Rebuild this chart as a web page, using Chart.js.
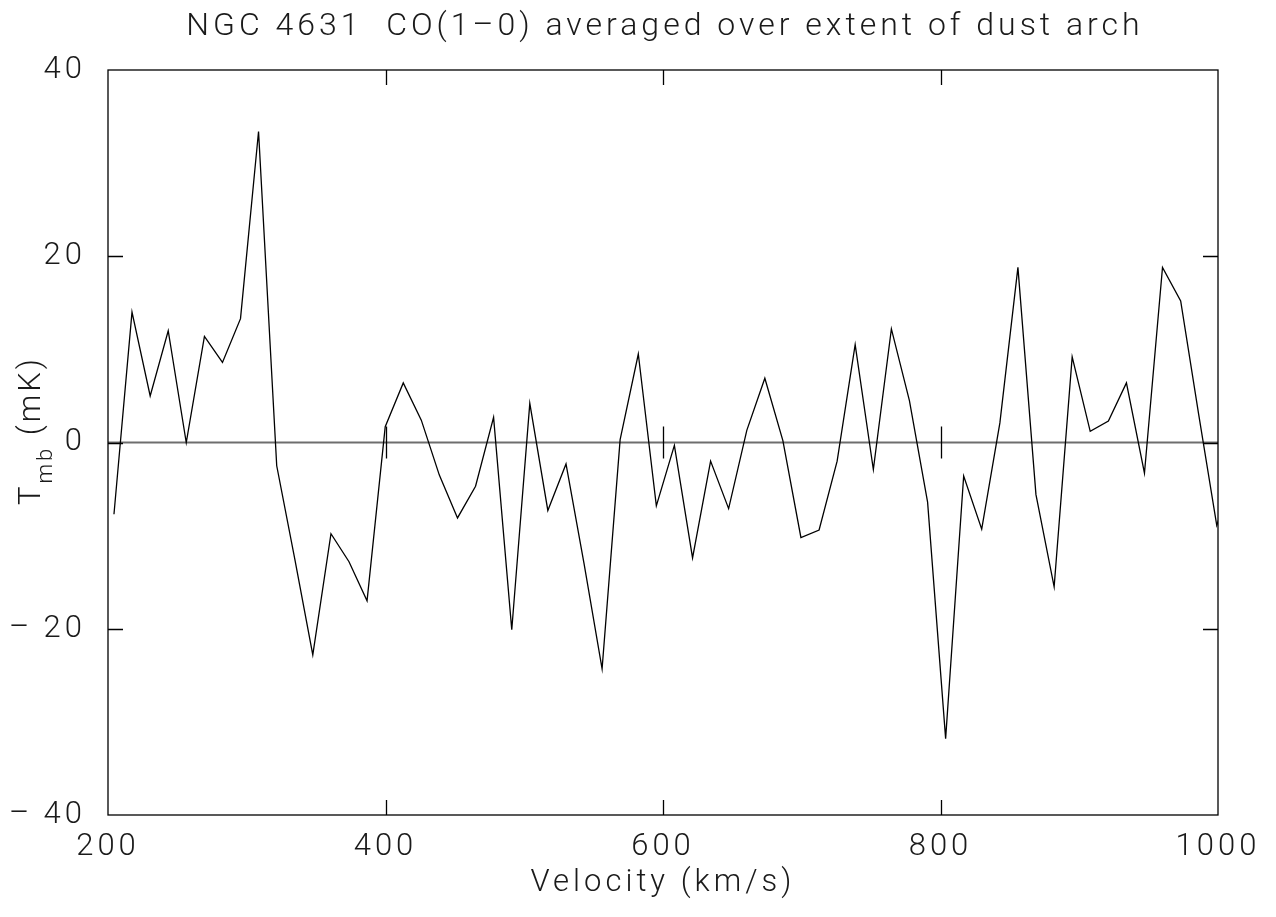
<!DOCTYPE html>
<html>
<head>
<meta charset="utf-8">
<script src="https://cdn.jsdelivr.net/npm/chart.js@4.4.1/dist/chart.umd.min.js"></script>
<style>
  html, body { margin: 0; padding: 0; background: #ffffff; }
  #wrap { width: 1276px; height: 917px; position: relative; }
</style>
</head>
<body>
<div id="wrap"><canvas id="c" width="1276" height="917"></canvas></div>
<script>
// ---- data ----
const titleText = "NGC 4631  CO(1\u20130) averaged over extent of dust arch";
const xTitle = "Velocity (km/s)";
const velocities = [204.3, 217.3, 230.4, 243.4, 256.4, 269.5, 282.5, 295.5, 308.5, 321.6,
  334.6, 347.6, 360.7, 373.7, 386.7, 399.8, 412.8, 425.8, 438.8, 451.9,
  464.9, 477.9, 491.0, 504.0, 517.0, 530.1, 543.1, 556.1, 569.1, 582.2,
  595.2, 608.2, 621.3, 634.3, 647.3, 660.4, 673.4, 686.4, 699.4, 712.5,
  725.5, 738.5, 751.6, 764.6, 777.6, 790.7, 803.7, 816.7, 829.7, 842.8,
  855.8, 868.8, 881.9, 894.9, 907.9, 921.0, 934.0, 947.0, 960.0, 973.1,
  986.1, 999.1, 1012.1];
const tmb = [-7.7, 14.0, 5.0, 12.0, 0.0, 11.4, 8.6, 13.3, 33.4, -2.5,
  -12.5, -22.8, -9.8, -12.8, -17.0, 1.7, 6.4, 2.4, -3.5, -8.1,
  -4.7, 2.7, -20.1, 4.2, -7.3, -2.3, -13.0, -24.3, 0.3, 9.5,
  -6.8, -0.3, -12.4, -2.0, -7.1, 1.3, 6.9, 0.2, -10.2, -9.4,
  -2.0, 10.5, -2.9, 12.2, 4.5, -6.4, -31.8, -3.6, -9.3, 2.1,
  18.8, -5.6, -15.5, 9.2, 1.2, 2.3, 6.4, -3.3, 18.8, 15.2,
  3.0, -8.9, -3.0];
const xTicks = [200, 400, 600, 800, 1000];
const yTicks = [-40, -20, 0, 20, 40];
const innerXTicks = [400, 600, 800];
const innerYTicks = [-20, 0, 20];

const FONT = "Roboto, 'DejaVu Sans', sans-serif";
const TXT = "#1a1a1a";
const SPACING = '4px';

function fmt(v) { return v < 0 ? "\u2013\u2009" + Math.abs(v) : String(v); }

const framePlugin = {
  id: 'frame',
  beforeLayout(chart) { chart.ctx.letterSpacing = SPACING; },
  beforeDraw(chart) {
    const { ctx, chartArea: a } = chart;
    ctx.letterSpacing = SPACING;
    // title, centred over the plot area
    ctx.save();
    ctx.fillStyle = TXT;
    ctx.font = "300 32px " + FONT;
    ctx.textAlign = 'center';
    ctx.textBaseline = 'alphabetic';
    ctx.fillText(titleText, (a.left + a.right) / 2 + 2, 35);
    ctx.restore();
  },
  beforeDatasetsDraw(chart) {
    const { ctx, chartArea: a, scales } = chart;
    const y0 = scales.y.getPixelForValue(0);
    ctx.save();
    ctx.strokeStyle = '#6e6e6e';
    ctx.lineWidth = 2;
    ctx.beginPath();
    ctx.moveTo(a.left, y0);
    ctx.lineTo(a.right, y0);
    ctx.stroke();
    ctx.restore();
  },
  afterDatasetsDraw(chart) {
    const { ctx, chartArea: a, scales } = chart;
    const T = 15;
    ctx.save();
    ctx.strokeStyle = '#000';
    ctx.lineWidth = 1.3;
    ctx.strokeRect(a.left, a.top, a.right - a.left, a.bottom - a.top);
    ctx.beginPath();
    innerXTicks.forEach(v => {
      const px = Math.round(scales.x.getPixelForValue(v)) + 0.5;
      ctx.moveTo(px, a.bottom); ctx.lineTo(px, a.bottom - T);
      ctx.moveTo(px, a.top); ctx.lineTo(px, a.top + T);
      const y0 = scales.y.getPixelForValue(0);
      ctx.moveTo(px, y0 - 16); ctx.lineTo(px, y0 + 16);
    });
    innerYTicks.forEach(v => {
      const py = Math.round(scales.y.getPixelForValue(v)) + 0.5;
      ctx.moveTo(a.left, py); ctx.lineTo(a.left + T, py);
      ctx.moveTo(a.right, py); ctx.lineTo(a.right - T, py);
    });
    ctx.stroke();
    // y axis title with subscript
    const cy = (a.top + a.bottom) / 2 - 12;
    ctx.translate(40, cy);
    ctx.rotate(-Math.PI / 2);
    ctx.fillStyle = TXT;
    ctx.textBaseline = 'alphabetic';
    ctx.textAlign = 'left';
    ctx.letterSpacing = '3px';
    const big = "300 31px " + FONT;
    const small = "300 22px " + FONT;
    ctx.font = big; const wT = ctx.measureText("T").width;
    ctx.font = small; const wS = ctx.measureText("mb").width;
    ctx.font = big; const wU = ctx.measureText(" (mK)").width;
    const total = wT + wS + wU;
    let x = -total / 2;
    ctx.font = big; ctx.fillText("T", x, 0); x += wT;
    ctx.font = small; ctx.fillText("mb", x, 12); x += wS;
    ctx.font = big; ctx.fillText(" (mK)", x, 0);
    ctx.restore();
  }
};

new Chart(document.getElementById('c'), {
  type: 'scatter',
  data: {
    datasets: [{
      data: velocities.map((v, i) => ({ x: v, y: tmb[i] })),
      showLine: true,
      borderColor: '#000',
      borderWidth: 1.3,
      pointRadius: 0,
      tension: 0,
      fill: false
    }]
  },
  options: {
    responsive: false,
    animation: false,
    devicePixelRatio: 1,
    layout: { padding: { left: 0, right: 58, top: 70, bottom: 0 } },
    plugins: {
      legend: { display: false },
      tooltip: { enabled: false },
      title: { display: false }
    },
    scales: {
      x: {
        type: 'linear',
        min: 200, max: 1000,
        afterBuildTicks: s => { s.ticks = xTicks.map(v => ({ value: v })); },
        afterFit: s => { s.height = 102; },
        grid: { display: false, drawTicks: false },
        border: { display: false },
        ticks: { color: TXT, font: { family: FONT, size: 31, weight: '300' }, padding: 14, maxRotation: 0, callback: v => fmt(v) },
        title: { display: true, text: xTitle, color: TXT, font: { family: FONT, size: 31, weight: '300' }, padding: { top: 0, bottom: 15 } }
      },
      y: {
        type: 'linear',
        min: -40, max: 40,
        afterBuildTicks: s => { s.ticks = yTicks.map(v => ({ value: v })); },
        afterFit: s => { s.width = 108; },
        grid: { display: false, drawTicks: false },
        border: { display: false },
        ticks: { color: TXT, font: { family: FONT, size: 31, weight: '300' }, padding: 22, callback: v => fmt(v) }
      }
    }
  },
  plugins: [framePlugin]
});
</script>
</body>
</html>
